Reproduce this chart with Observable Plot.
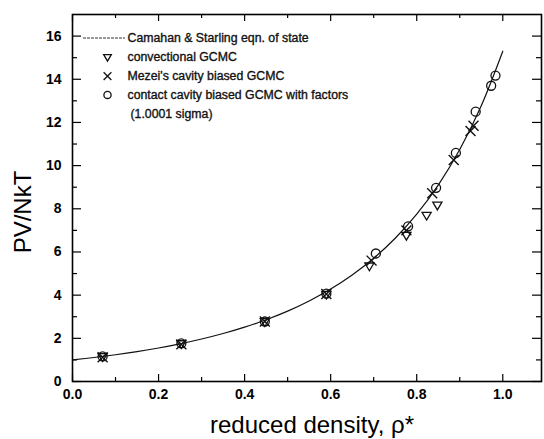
<!DOCTYPE html>
<html>
<head>
<meta charset="utf-8">
<script src="https://cdn.jsdelivr.net/npm/d3@7"></script>
<script src="https://cdn.jsdelivr.net/npm/@observablehq/plot@0.6"></script>
<style>
  html, body { margin: 0; padding: 0; background: #fff; }
  #chart { width: 544px; height: 439px; }
</style>
</head>
<body>
<div id="chart"></div>
<script>
// Carnahan & Starling curve
const csRho = [0, 0.05, 0.1, 0.15, 0.2, 0.25, 0.3, 0.35, 0.4, 0.45, 0.5, 0.55, 0.6, 0.65, 0.7, 0.75, 0.8, 0.85, 0.9, 0.95, 1.0];
const csZ   = [1, 1.112, 1.240, 1.386, 1.553, 1.745, 1.967, 2.222, 2.518, 2.862, 3.262, 3.732, 4.284, 4.935, 5.710, 6.636, 7.750, 9.099, 10.746, 12.776, 15.30];

// conventional GCMC (down triangles)
const triRho = [0.07, 0.253, 0.447, 0.59, 0.69, 0.776, 0.823, 0.848];
const triZ   = [1.14, 1.74, 2.76, 4.03, 5.34, 6.76, 7.69, 8.16];

// Mezei's cavity biased GCMC (crosses)
const crossRho = [0.07, 0.253, 0.447, 0.59, 0.695, 0.776, 0.836, 0.886, 0.925, 0.932];
const crossZ   = [1.12, 1.72, 2.78, 4.05, 5.60, 7.00, 8.72, 10.26, 11.60, 11.85];

// contact cavity biased GCMC (circles)
const circRho = [0.07, 0.253, 0.447, 0.59, 0.705, 0.78, 0.845, 0.891, 0.937, 0.973, 0.983];
const circZ   = [1.16, 1.77, 2.78, 4.07, 5.93, 7.19, 8.97, 10.59, 12.50, 13.70, 14.17];

const xMajor = [0, 0.2, 0.4, 0.6, 0.8, 1.0];
const xMinor = [0.1, 0.3, 0.5, 0.7, 0.9];
const yMajor = [0, 2, 4, 6, 8, 10, 12, 14, 16];
const yMinor = [1, 3, 5, 7, 9, 11, 13, 15];

const legendLabels = [
  "Camahan & Starling eqn. of state",
  "convectional GCMC",
  "Mezei's cavity biased GCMC",
  "contact cavity biased GCMC with factors",
  "(1.0001 sigma)"
];

const xTitle = "reduced density, \u03c1*";
const yTitle = "PV/NkT";

const cs = csRho.map((x, i) => ({x, y: csZ[i]}));
const tri = triRho.map((x, i) => ({x, y: triZ[i]}));
const crs = crossRho.map((x, i) => ({x, y: crossZ[i]}));
const circ = circRho.map((x, i) => ({x, y: circZ[i]}));

const W = 544, H = 439;
const mL = 72, mR = 3, mT = 14, mB = 58;
const fw = W - mL - mR, fh = H - mT - mB;
const font = "'Liberation Sans', Arial, Helvetica, sans-serif";

const downTriangle = {
  draw(ctx, size) {
    const s = Math.sqrt(size) * 0.6;
    ctx.moveTo(-s, -s * 0.7);
    ctx.lineTo(s, -s * 0.7);
    ctx.lineTo(0, s * 1.0);
    ctx.closePath();
  }
};

const legendSymbols = [downTriangle, "times", "circle"];

const marks = [
  // inside ticks, all four sides
  Plot.ruleX(xMajor, {x: d => d, insetTop: fh - 7, strokeWidth: 1.2}),
  Plot.ruleX(xMinor, {x: d => d, insetTop: fh - 4, strokeWidth: 1.2}),
  Plot.ruleX(xMajor, {x: d => d, insetBottom: fh - 7, strokeWidth: 1.2}),
  Plot.ruleX(xMinor, {x: d => d, insetBottom: fh - 4, strokeWidth: 1.2}),
  Plot.ruleY(yMajor, {y: d => d, insetRight: fw - 9, strokeWidth: 1.2}),
  Plot.ruleY(yMinor, {y: d => d, insetRight: fw - 5, strokeWidth: 1.2}),
  Plot.ruleY(yMajor, {y: d => d, insetLeft: fw - 9, strokeWidth: 1.2}),
  Plot.ruleY(yMinor, {y: d => d, insetLeft: fw - 5, strokeWidth: 1.2}),
  Plot.axisX({ticks: xMajor, tickSize: 0, tickPadding: 8, tickFormat: d3.format(".1f"),
    fontSize: 14, fontWeight: "bold", label: null}),
  Plot.axisY({ticks: yMajor, tickSize: 0, tickPadding: 11, tickFormat: d3.format("d"),
    fontSize: 14, fontWeight: "bold", label: null}),
  Plot.frame({stroke: "#000", strokeWidth: 1.6}),
  Plot.line(cs, {x: "x", y: "y", curve: "catmull-rom", stroke: "#111", strokeWidth: 1.2}),
  Plot.dot(tri, {x: "x", y: "y", symbol: downTriangle, r: 4.3, stroke: "#111", strokeWidth: 1.3, fill: "none"}),
  Plot.dot(crs, {x: "x", y: "y", symbol: "times", r: 4.6, stroke: "#111", strokeWidth: 1.4}),
  Plot.dot(circ, {x: "x", y: "y", symbol: "circle", r: 4.5, stroke: "#111", strokeWidth: 1.3, fill: "none"}),
  // axis titles
  Plot.text([yTitle], {frameAnchor: "left", text: d => d, rotate: -90, dx: -49, dy: 14,
    fontSize: 24, fill: "#000", textAnchor: "middle", lineAnchor: "middle"}),
  Plot.text([xTitle], {frameAnchor: "bottom", text: d => d, dx: 5, dy: 44,
    fontSize: 24, fill: "#000", textAnchor: "middle", lineAnchor: "middle"}),
  // legend text
  ...legendLabels.map((t, i) => Plot.text([t], {frameAnchor: "top-left", text: d => d,
    dx: i === 4 ? 58 : 55, dy: 24 + 18.8 * i, fontSize: 12.3, fontWeight: "normal", fill: "#111",
    stroke: "#111", strokeWidth: 0.35,
    textAnchor: "start", lineAnchor: "middle"})),
  // legend symbols
  ...legendSymbols.map((s, i) => Plot.dot([0], {frameAnchor: "top-left", dx: 35, dy: 24 + 18.8 * (i + 1),
    symbol: s, r: 3.6, stroke: "#111", strokeWidth: 1.3, fill: "none"}))
];

const svg = Plot.plot({
  width: W, height: H,
  marginLeft: mL, marginRight: mR, marginTop: mT, marginBottom: mB,
  style: {fontFamily: font, background: "#fff", color: "#000"},
  x: {domain: [0, 1.09]},
  y: {domain: [0, 17]},
  marks
});

// legend line sample
d3.select(svg).append("line")
  .attr("x1", mL + 11).attr("x2", mL + 53)
  .attr("y1", mT + 24).attr("y2", mT + 24)
  .attr("stroke", "#333").attr("stroke-width", 1)
  .attr("stroke-dasharray", "3,1");

document.getElementById("chart").appendChild(svg);
</script>
</body>
</html>
